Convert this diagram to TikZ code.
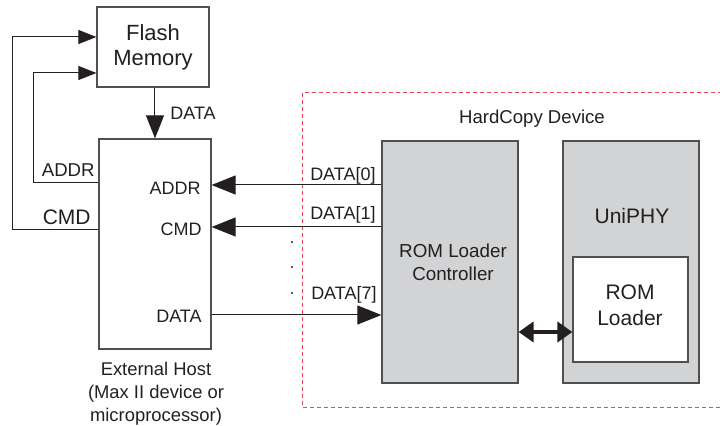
\documentclass[tikz,border=0pt]{standalone}
\usepackage{fontspec}
\setmainfont{Liberation Sans}
\usetikzlibrary{arrows.meta}

\definecolor{boxgray}{RGB}{210,211,213}
\definecolor{edgegray}{RGB}{80,80,80}
\definecolor{devred}{RGB}{236,70,80}
\definecolor{ink}{RGB}{35,31,32}

\tikzset{
  block/.style={draw=edgegray, line width=0.6pt, text=ink, align=center, inner sep=0pt},
  sig/.style={draw=ink, line width=0.5pt},
  bigtip/.style={-{Triangle[length=12pt,width=9.5pt]}},
  smalltip/.style={-{Triangle[length=9pt,width=7pt]}},
  lbl/.style={text=ink, inner sep=0pt, font=\fontsize{9}{10}\selectfont},
}

\begin{document}
\begin{tikzpicture}[x=0.5pt,y=-0.5pt]
    \clip (0,0) rectangle (720,426);

    % Flash memory and external host
    \node[block, minimum width=56pt, minimum height=40pt, font=\fontsize{11}{12.5}\selectfont] (flash) at (153,47) {Flash\\Memory};
    \node[block, minimum width=56pt, minimum height=105pt] (host) at (155,244) {};
    \node[lbl, align=center, font=\fontsize{9.2}{11.5}\selectfont] (hostname) at (156,394) {External Host\\(Max II device or\\microprocessor)};

    % Host port labels
    \node[lbl, anchor=east] (haddr) at (201,188) {ADDR};
    \node[lbl, anchor=east] (hcmd) at (202,229) {CMD};
    \node[lbl, anchor=east] (hdata) at (202,316) {DATA};

    % HardCopy device boundary
    \draw[devred, line width=0.5pt, dash pattern=on 2pt off 1.5pt] (303,93) rectangle (740,408);
    \node[lbl, font=\fontsize{9.3}{10}\selectfont] (hcdev) at (532,119) {HardCopy Device};

    % ROM loader controller and UniPHY
    \node[block, fill=boxgray, minimum width=68pt, minimum height=121pt] (ctrl) at (450,262) {};
    \node[lbl, align=center, font=\fontsize{9.4}{11.5}\selectfont] (ctrlname) at (453,262) {ROM Loader\\Controller};
    \node[block, fill=boxgray, minimum width=68pt, minimum height=121pt] (uniphy) at (631,262) {};
    \node[lbl, font=\fontsize{10.5}{12}\selectfont] (uniname) at (632,216) {UniPHY};
    \node[block, fill=white, minimum width=57.5pt, minimum height=52.5pt] (romld) at (630.5,309.5) {};
    \node[lbl, align=center, font=\fontsize{10.5}{13}\selectfont] (romname) at (630,305) {ROM\\Loader};

    % Signal heights and bends
    \coordinate (yaddr) at (0,185);
    \coordinate (ycmd) at (0,227);
    \coordinate (ydata) at (0,315);
    \coordinate (ybus) at (0,332);
    \coordinate (yla) at (0,183);
    \coordinate (ylc) at (0,230);
    \coordinate (addrbend) at (34,73);
    \coordinate (cmdbend) at (13,37);

    % Flash data into host
    \draw[sig, -{Triangle[length=11.5pt,width=9pt]}] (flash.south -| host.north) -- (host.north);
    \node[lbl, anchor=west] (fdata) at (170,113) {DATA};

    % Host to flash address and command loops
    \draw[sig, smalltip] (host.west |- yla) -| (addrbend) -- (flash.west |- addrbend);
    \draw[sig, smalltip] (host.west |- ylc) -| (cmdbend) -- (flash.west |- cmdbend);
    \node[lbl, anchor=east, font=\fontsize{9.3}{10}\selectfont] (laddr) at (95,170) {ADDR};
    \node[lbl, anchor=east, font=\fontsize{10.5}{11}\selectfont] (lcmd) at (91,217) {CMD};

    % Data lines between controller and host
    \draw[sig, bigtip] (ctrl.west |- yaddr) -- (host.east |- yaddr);
    \draw[sig, bigtip] (ctrl.west |- ycmd) -- (host.east |- ycmd);
    \draw[sig, bigtip] (host.east |- ydata) -- (ctrl.west |- ydata);
    \node[lbl, anchor=east] (ld0) at (376,176) {DATA[0]};
    \node[lbl, anchor=east] (ld1) at (376,215) {DATA[1]};
    \node[lbl, anchor=east] (ld7) at (377,295) {DATA[7]};
    \foreach \y in {242,267,293}
        \fill[ink] (292,\y) circle (0.6pt);

    % Controller to ROM loader bus
    \draw[ink, line width=2pt, {Triangle[length=7.5pt,width=10pt]}-{Triangle[length=7.5pt,width=10pt]}] (ctrl.east |- ybus) -- (romld.west |- ybus);
\end{tikzpicture}
\end{document}
